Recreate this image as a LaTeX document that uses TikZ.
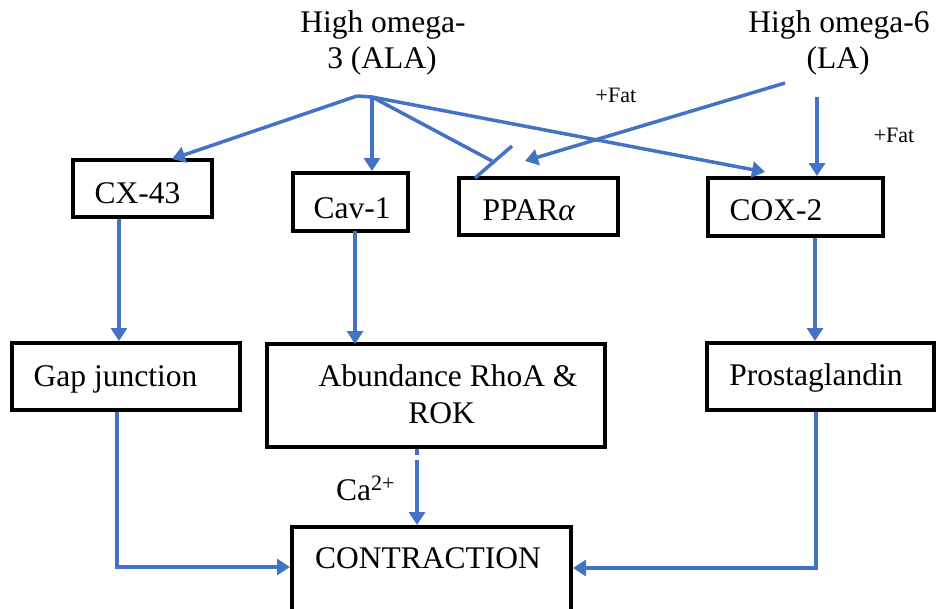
\documentclass[tikz,border=0pt]{standalone}
\usepackage{fontspec}
\setmainfont{Liberation Serif}
\usetikzlibrary{arrows.meta,calc}
\definecolor{wblue}{HTML}{4472C4}
\begin{document}
\begin{tikzpicture}[x=1pt,y=-1pt,
  box/.style={draw=black,line width=4pt,inner sep=0pt,minimum width=#1},
  txt/.style={anchor=base,inner sep=0pt,font=\fontsize{31.5}{36}\selectfont},
  small/.style={anchor=base,inner sep=0pt,font=\fontsize{22}{26}\selectfont},
  conn/.style={draw=wblue,line width=3.5pt},
  arr/.style={conn,-{Triangle[length=13pt,width=16pt]}},
  bar/.style={conn}]
\useasboundingbox (0,0) rectangle (936,608);

% boxes
\node[box=139pt,minimum height=57pt] (cx) at (142.5,188.5) {};
\node[box=115pt,minimum height=58pt] (cav) at (350.5,202) {};
\node[box=159pt,minimum height=57pt] (ppar) at (538.5,206.5) {};
\node[box=175pt,minimum height=58pt] (cox) at (795.5,207) {};
\node[box=228pt,minimum height=67pt] (gap) at (126,376.5) {};
\node[box=338pt,minimum height=103pt] (rho) at (436,395.5) {};
\node[box=227pt,minimum height=67pt] (prost) at (820.5,376.5) {};
\node[box=279pt,minimum height=85pt] (con) at (431.5,569.5) {};

% texts
\node[txt] (o3a) at (383,32) {High omega-};
\node[txt] (o3b) at (382,68) {3 (ALA)};
\node[txt] (o6a) at (839,32) {High omega-6};
\node[txt] (o6b) at (838,68) {(LA)};
\node[txt] (cxt) at (137.5,203) {CX-43};
\node[txt] (cavt) at (352,218) {Cav-1};
\node[txt] (ppart) at (529,220) {PPAR\textit{α}};
\node[txt] (coxt) at (776,220) {COX-2};
\node[txt] (gapt) at (115.5,386) {Gap junction};
\node[txt] (rhoa) at (448,386) {Abundance RhoA \&};
\node[txt] (rhob) at (441.5,423) {ROK};
\node[txt] (prostt) at (816,385) {Prostaglandin};
\node[txt,anchor=base west] (cont) at (315,568) {CONTRACTION};
\node[small] (fat1) at (616,102) {+Fat};
\node[small] (fat2) at (894,142) {+Fat};
\node[txt,anchor=base west] (ca) at (336,500) {Ca\textsuperscript{2+}};

% coordinates
\coordinate (hub) at (372,97);
\coordinate (hubl) at (357,96);
\coordinate (cxtip) at (172,159);
\coordinate (paend) at (492,161);
\coordinate (pbar1) at (475,178);
\coordinate (pbar2) at (512,146);
\coordinate (coxtip) at (765,172);
\coordinate (o6start) at (785,83);
\coordinate (o6tip) at (525,161);
\coordinate (o6v) at (817,97);
\coordinate (cavb) at (355,231);
\coordinate (rhot) at (355,344);

% omega-3 branches
\draw[conn] (hub) -- (hubl);
\draw[arr] (hubl) -- (cxtip);
\draw[arr] (hub) -- (hub |- cav.north);
\draw[conn] (hub) -- (paend);
\draw[bar] (pbar1) -- (pbar2);
\draw[arr] (hub) -- (coxtip);

% omega-6 branches
\draw[arr] (o6start) -- (o6tip);
\draw[arr] (o6v) -- (o6v |- cox.north);

% vertical links
\draw[arr] (119,0 |- cx.south) -- (119,0 |- gap.north);
\draw[arr] (cavb) -- (rhot);
\draw[arr] (815,0 |- cox.south) -- (815,0 |- prost.north);
\draw[arr,dash pattern=on 6pt off 5pt on 300pt] (417,0 |- rho.south) -- (417,0 |- con.north);

% to contraction
\draw[arr] (117,0 |- gap.south) |- (con.west |- 0,567);
\draw[arr] (816,0 |- prost.south) |- (con.east |- 0,568);
\end{tikzpicture}
\end{document}
